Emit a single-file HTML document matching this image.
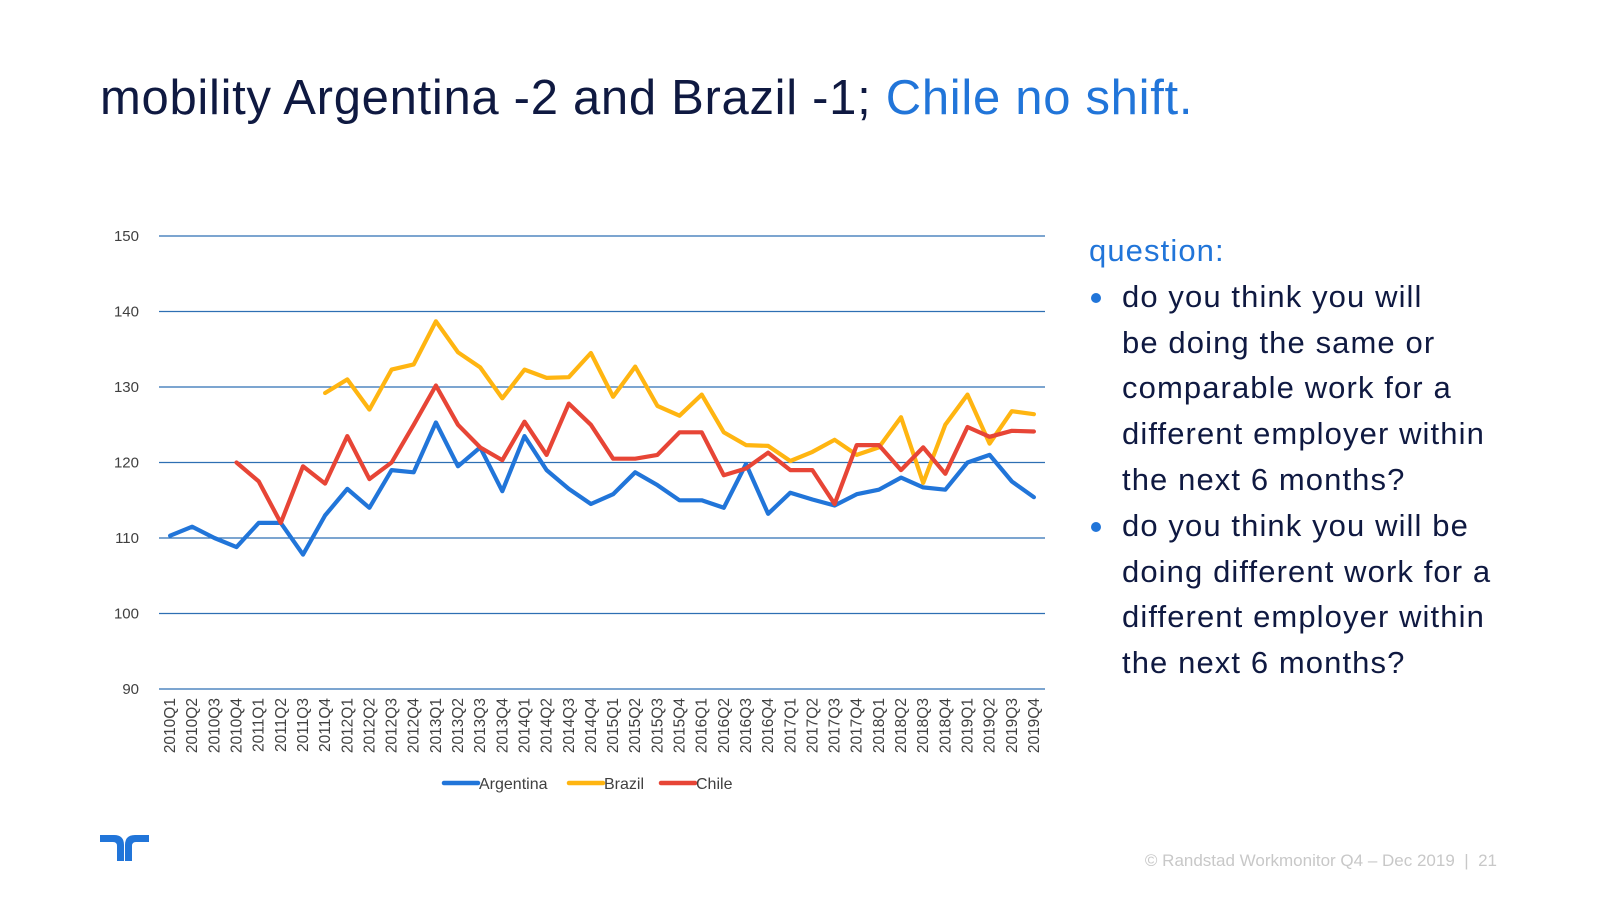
<!DOCTYPE html>
<html><head><meta charset="utf-8"><style>
body{margin:0;width:1600px;height:900px;background:#fff;overflow:hidden;font-family:"Liberation Sans",sans-serif;position:relative}
#title{position:absolute;left:100px;top:70px;font-size:49px;color:#0f1941;white-space:nowrap;letter-spacing:0.7px}
#title span{color:#2175d9}
#side{position:absolute;left:1089px;top:228px;font-size:31px;color:#0f1941;line-height:45.8px;width:500px;letter-spacing:1.1px}
#side .q{color:#2175d9}
#side ul{margin:0;padding:0;list-style:none}
#side li{position:relative;padding-left:33px}
#side li:before{content:"";position:absolute;left:2px;top:19px;width:10px;height:10px;border-radius:50%;background:#2175d9}
#footer{position:absolute;right:103px;top:851px;font-size:17px;color:#c8c8c8}
</style></head><body>
<div id="title">mobility Argentina -2 and Brazil -1; <span>Chile no shift.</span></div>
<svg id="chart" width="1600" height="900" style="position:absolute;left:0;top:0"></svg>
<div id="side">
<div class="q">question:</div>
<ul>
<li>do you think you will<br>be doing the same or<br>comparable work for a<br>different employer within<br>the next 6 months?</li>
<li>do you think you will be<br>doing different work for a<br>different employer within<br>the next 6 months?</li>
</ul></div>
<svg style="position:absolute;left:100px;top:835px" width="50" height="28"><path d="M0 0h14q10 0 10 10v16h-7v-15q0-4-4-4h-13z M49 0h-14q-10 0-10 10v16h7v-15q0-4 4-4h13z" fill="#2175d9"/></svg>
<div id="footer">© Randstad Workmonitor Q4 – Dec 2019 &nbsp;|&nbsp; 21</div>
<script>
const categories=[];for(let y=2010;y<=2019;y++)for(let q=1;q<=4;q++)categories.push(y+"Q"+q);
const yTicks=[90,100,110,120,130,140,150];
const argentina=[110.3,111.5,110,108.8,112,112,107.8,113,116.5,114,119,118.7,125.3,119.5,122,116.2,123.5,119,116.5,114.5,115.8,118.7,117,115,115,114,119.8,113.2,116,115.1,114.3,115.8,116.4,118,116.7,116.4,120,121,117.5,115.4];
const brazil=[null,null,null,null,null,null,null,129.2,131,127,132.3,133,138.7,134.6,132.6,128.5,132.3,131.2,131.3,134.5,128.7,132.7,127.5,126.2,129,124,122.3,122.2,120.2,121.4,123,121,122,126,117.3,125,129,122.5,126.8,126.4];
const chile=[null,null,null,120,117.5,112,119.5,117.2,123.5,117.8,120,125,130.2,125,122,120.3,125.4,121,127.8,125,120.5,120.5,121,124,124,118.3,119.2,121.3,119,119,114.5,122.3,122.3,119,122,118.5,124.7,123.4,124.2,124.1];
const seriesNames=["Argentina","Brazil","Chile"];
const colors=["#2175d9","#ffb511","#e74536"];
const svg=document.getElementById('chart');const NS="http://www.w3.org/2000/svg";
const X0=159,X1=1045,Y0=689,Y1=236;
const band=(X1-X0)/categories.length;
const xs=i=>X0+band*(i+0.5);
const ys=v=>Y0-(v-90)/(150-90)*(Y0-Y1);
function mk(t,a){const e=document.createElementNS(NS,t);for(const k in a)e.setAttribute(k,a[k]);svg.appendChild(e);return e;}
yTicks.forEach(v=>{
 const l=mk('line',{x1:X0,x2:X1,y1:ys(v),y2:ys(v),stroke:'#2e6fb3','stroke-width':1.3});
 
 
 const t=mk('text',{x:139,y:ys(v)+5,'text-anchor':'end','font-size':15,fill:'#404040','font-family':'Liberation Sans'});t.textContent=v;
 
 
});
categories.forEach((c,i)=>{
 const x=xs(i)+5,y=698;
 const t=mk('text',{x:x,y:y,transform:`rotate(-90 ${x} ${y})`,'text-anchor':'end','font-size':15.5,fill:'#404040','font-family':'Liberation Sans'});t.textContent=c;
 
 
});
[argentina,brazil,chile].forEach((s,k)=>{
 let d='',pen=false;
 s.forEach((v,i)=>{if(v==null){pen=false;return;}d+=(pen?'L':'M')+xs(i).toFixed(1)+' '+ys(v).toFixed(1)+' ';pen=true;});
 const p=mk('path',{d:d,fill:'none',stroke:colors[k],'stroke-width':4.2,'stroke-linejoin':'round','stroke-linecap':'round'});
 
 
});
const lx=[444,569,661];
seriesNames.forEach((n,k)=>{
 const l=mk('line',{x1:lx[k],x2:lx[k]+34,y1:783,y2:783,stroke:colors[k],'stroke-width':4.5,'stroke-linecap':'round'});
 
 
 const t=mk('text',{x:lx[k]+35,y:789,'font-size':16,fill:'#404040','font-family':'Liberation Sans'});t.textContent=n;
 
 
});
</script>
</body></html>
